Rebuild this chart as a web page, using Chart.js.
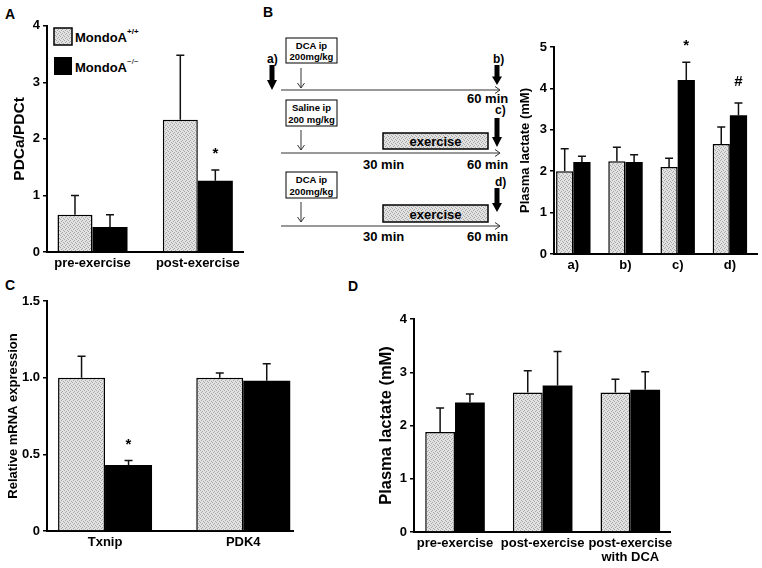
<!DOCTYPE html>
<html>
<head>
<meta charset="utf-8">
<script src="https://cdn.jsdelivr.net/npm/chart.js@4.4.1/dist/chart.umd.min.js"></script>
<style>
  body { margin: 0; background: #fff; width: 762px; height: 568px; overflow: hidden; position: relative; }
  canvas { position: absolute; }
  svg { position: absolute; left: 0; top: 0; }
</style>
</head>
<body>
<svg width="762" height="568" font-family="Liberation Sans, Arial, sans-serif" font-weight="bold">
  <defs>
    <pattern id="dots" width="4" height="4" patternUnits="userSpaceOnUse">
      <rect width="4" height="4" fill="#e2e2e2"/>
      <rect x="0" y="0" width="1" height="1" fill="#a8a8a8"/>
      <rect x="2" y="1" width="1" height="1" fill="#a8a8a8"/>
      <rect x="1" y="2" width="1" height="1" fill="#a8a8a8"/>
      <rect x="3" y="3" width="1" height="1" fill="#a8a8a8"/>
    </pattern>
  </defs>
  <!-- panel letters -->
  <text x="5" y="19" font-size="14">A</text>
  <text x="263" y="17" font-size="14">B</text>
  <text x="5" y="290" font-size="14">C</text>
  <text x="348" y="291" font-size="14">D</text>

  <!-- legend of panel A -->
  <rect x="54" y="28" width="18" height="17" fill="url(#dots)" stroke="#000" stroke-width="1.5"/>
  <text x="75" y="42" font-size="13">MondoA<tspan dy="-8" font-size="8">+/+</tspan></text>
  <rect x="54" y="57" width="18" height="18" fill="#000"/>
  <text x="75" y="72" font-size="13">MondoA<tspan dy="-8" font-size="8" font-weight="normal">−/−</tspan></text>

  <!-- panel B protocol scheme -->
  <g stroke="#000" fill="none">
    <rect x="286" y="38" width="51" height="25" fill="#fff"/>
    <rect x="286" y="100" width="51" height="26" fill="#fff"/>
    <rect x="286" y="172" width="51" height="26" fill="#fff"/>
    <rect x="383" y="133" width="105" height="16" fill="url(#dots)" stroke-width="1.5"/>
    <rect x="383" y="205" width="105" height="17" fill="url(#dots)" stroke-width="1.5"/>
    <g stroke="#333" stroke-width="1">
      <line x1="281" y1="90" x2="500" y2="90"/><polyline points="495,86.5 500,90 495,93.5"/>
      <line x1="281" y1="153" x2="500" y2="153"/><polyline points="495,149.5 500,153 495,156.5"/>
      <line x1="281" y1="226" x2="500" y2="226"/><polyline points="495,222.5 500,226 495,229.5"/>
      <line x1="301" y1="68" x2="301" y2="88"/><polyline points="297.5,83 301,88 304.5,83"/>
      <line x1="301" y1="130" x2="301" y2="150"/><polyline points="297.5,145 301,150 304.5,145"/>
      <line x1="301" y1="202" x2="301" y2="222"/><polyline points="297.5,217 301,222 304.5,217"/>
    </g>
  </g>
  <g fill="#000">
    <path d="M269.5 65 H274.5 V80 H277 L272 90 L267 80 H269.5 Z"/>
    <path d="M494.5 65 H499.5 V76.5 H502 L497 85 L492 76.5 H494.5 Z"/>
    <path d="M494.5 118 H499.5 V137 H502 L497 147 L492 137 H494.5 Z"/>
    <path d="M494.5 188 H499.5 V203 H502 L497 212 L492 203 H494.5 Z"/>
  </g>
  <g font-size="9.5" text-anchor="middle">
    <text x="311.5" y="49">DCA ip</text><text x="311.5" y="60">200mg/kg</text>
    <text x="311.5" y="111">Saline ip</text><text x="311.5" y="123">200 mg/kg</text>
    <text x="311.5" y="183">DCA ip</text><text x="311.5" y="195">200mg/kg</text>
  </g>
  <g font-size="13" text-anchor="middle">
    <text x="435.5" y="146">exercise</text>
    <text x="435.5" y="218.5">exercise</text>
  </g>
  <g font-size="12">
    <text x="267" y="63">a)</text>
    <text x="493" y="63">b)</text>
    <text x="495" y="114">c)</text>
    <text x="495" y="186">d)</text>
  </g>
  <g font-size="13">
    <text x="467" y="103">60 min</text>
    <text x="363" y="168.5">30 min</text>
    <text x="467" y="168.5">60 min</text>
    <text x="363" y="241">30 min</text>
    <text x="467" y="241">60 min</text>
  </g>
</svg>

<canvas id="chartA" width="248" height="270" style="left:0px;top:15px"></canvas>
<canvas id="chartB" width="247" height="250" style="left:515px;top:30px"></canvas>
<canvas id="chartC" width="300" height="270" style="left:0px;top:290px"></canvas>
<canvas id="chartD" width="307" height="263" style="left:370px;top:305px"></canvas>

<script>
// A: PDCa/PDCt
const catsA = ['pre-exercise', 'post-exercise'];
const wtA = [0.66, 2.34];
const wtErrA = [0.34, 1.14];
const koA = [0.44, 1.26];
const koErrA = [0.22, 0.19];
const marksA = ['', '*'];

// B: plasma lactate after protocols a) - d)
const catsB = ['a)', 'b)', 'c)', 'd)'];
const wtB = [2.0, 2.24, 2.1, 2.66];
const wtErrB = [0.54, 0.34, 0.21, 0.41];
const koB = [2.22, 2.22, 4.2, 3.35];
const koErrB = [0.14, 0.18, 0.43, 0.3];
const marksB = ['', '', '*', '#'];

// C: relative mRNA expression
const catsC = ['Txnip', 'PDK4'];
const wtC = [1.0, 1.0];
const wtErrC = [0.14, 0.03];
const koC = [0.43, 0.98];
const koErrC = [0.03, 0.11];
const marksC = ['*', ''];

// D: plasma lactate
const catsD = ['pre-exercise', 'post-exercise', ['post-exercise', 'with DCA']];
const wtD = [1.88, 2.62, 2.62];
const wtErrD = [0.45, 0.41, 0.25];
const koD = [2.43, 2.75, 2.67];
const koErrD = [0.16, 0.64, 0.34];

Chart.defaults.font.family = 'Liberation Sans, Arial, sans-serif';
Chart.defaults.font.weight = 'bold';
Chart.defaults.color = '#000';

function stipple() {
    const c = document.createElement('canvas');
    c.width = 4; c.height = 4;
    const g = c.getContext('2d');
    g.fillStyle = '#e2e2e2';
    g.fillRect(0, 0, 4, 4);
    g.fillStyle = '#a8a8a8';
    [[0, 0], [2, 1], [1, 2], [3, 3]].forEach(p => g.fillRect(p[0], p[1], 1, 1));
    return g.createPattern(c, 'repeat');
}
const gray = stipple();

// error bars (upper half only) plus significance marks
const errorBars = {
    id: 'errorBars',
    afterDatasetsDraw(chart) {
        const ctx = chart.ctx;
        const yScale = chart.scales.y;
        chart.data.datasets.forEach((ds, i) => {
            chart.getDatasetMeta(i).data.forEach((bar, j) => {
                const top = yScale.getPixelForValue(ds.data[j].y + ds.errors[j]);
                ctx.save();
                ctx.strokeStyle = '#111';
                ctx.lineWidth = 1.5;
                ctx.beginPath();
                ctx.moveTo(bar.x, bar.y);
                ctx.lineTo(bar.x, top);
                ctx.moveTo(bar.x - 4, top);
                ctx.lineTo(bar.x + 4, top);
                ctx.stroke();
                const m = ds.marks && ds.marks[j];
                if (m) {
                    ctx.fillStyle = '#000';
                    ctx.font = 'bold 15px Liberation Sans, Arial, sans-serif';
                    ctx.textAlign = 'center';
                    ctx.textBaseline = 'middle';
                    ctx.fillText(m, bar.x, top - (m === '*' ? 16 : 21));
                }
                ctx.restore();
            });
        });
    }
};

function barChart(id, cats, wt, wtErr, ko, koErr, marks, o) {
    const ctx = document.getElementById(id).getContext('2d');
    return new Chart(ctx, {
        type: 'bar',
        data: {
            datasets: [{
                label: 'MondoA+/+',
                data: cats.map((c, i) => ({ x: i, y: wt[i] })),
                errors: wtErr,
                marks: [],
                backgroundColor: gray,
                borderColor: '#000',
                borderWidth: 1.5,
                categoryPercentage: o.catPct,
                barPercentage: 1,
            }, {
                label: 'MondoA-/-',
                data: cats.map((c, i) => ({ x: i, y: ko[i] })),
                errors: koErr,
                marks: marks,
                backgroundColor: '#000',
                borderWidth: 0,
                categoryPercentage: o.catPct,
                barPercentage: 1,
            }],
        },
        options: {
            responsive: false,
            animation: false,
            layout: { padding: { top: o.padTop, right: o.padRight, left: 0, bottom: 0 } },
            plugins: { legend: { display: false }, tooltip: { enabled: false } },
            scales: {
                x: {
                    type: 'linear',
                    min: o.xMin,
                    max: o.xMax,
                    offset: false,
                    grid: { display: false, drawTicks: false },
                    border: { color: '#000', width: 2 },
                    afterBuildTicks: s => { s.ticks = cats.map((c, i) => ({ value: i })); },
                    afterFit: s => { s.height = o.xHeight; },
                    ticks: {
                        callback: v => cats[v],
                        autoSkip: false,
                        maxRotation: 0,
                        padding: 4,
                        font: { size: 13, weight: 'bold', lineHeight: 1.1 },
                    },
                },
                y: {
                    min: 0,
                    max: o.yMax,
                    ticks: { stepSize: o.step, callback: o.fmt, padding: 3, font: { size: 13, weight: 'bold' } },
                    grid: { drawOnChartArea: false, color: '#000', lineWidth: 1.5, tickLength: 4 },
                    border: { color: '#000', width: 2 },
                    afterFit: s => { s.width = o.yWidth; },
                    title: {
                        display: true,
                        text: o.yTitle,
                        font: { size: o.titleSize, weight: 'bold' },
                        padding: { top: o.titlePad, bottom: 0 },
                    },
                },
            },
        },
        plugins: [errorBars],
    });
}

const intFmt = v => v;

barChart('chartA', catsA, wtA, wtErrA, koA, koErrA, marksA, {
    padTop: 10, padRight: 5, yWidth: 47, xHeight: 33, xMin: -0.432, xMax: 1.429, catPct: 0.665,
    yMax: 4, step: 1, fmt: intFmt, yTitle: 'PDCa/PDCt', titleSize: 15.5, titlePad: 10.5,
});
barChart('chartB', catsB, wtB, wtErrB, koB, koErrB, marksB, {
    padTop: 17, padRight: 5, yWidth: 39, xHeight: 26, xMin: -0.37, xMax: 3.52, catPct: 0.66,
    yMax: 5, step: 1, fmt: intFmt, yTitle: 'Plasma lactate (mM)', titleSize: 13, titlePad: 3,
});
barChart('chartC', catsC, wtC, wtErrC, koC, koErrC, marksC, {
    padTop: 11, padRight: 7, yWidth: 47, xHeight: 29, xMin: -0.42, xMax: 1.36, catPct: 0.68,
    yMax: 1.5, step: 0.5, fmt: v => (v === 0 ? '0' : v.toFixed(1)), yTitle: 'Relative mRNA expression', titleSize: 13, titlePad: 6,
});
barChart('chartD', catsD, wtD, wtErrD, koD, koErrD, [], {
    padTop: 14, padRight: 5, yWidth: 44, xHeight: 36, xMin: -0.468, xMax: 2.46, catPct: 0.68,
    yMax: 4, step: 1, fmt: intFmt, yTitle: 'Plasma lactate (mM)', titleSize: 16.5, titlePad: 6.5,
});
</script>
</body>
</html>
